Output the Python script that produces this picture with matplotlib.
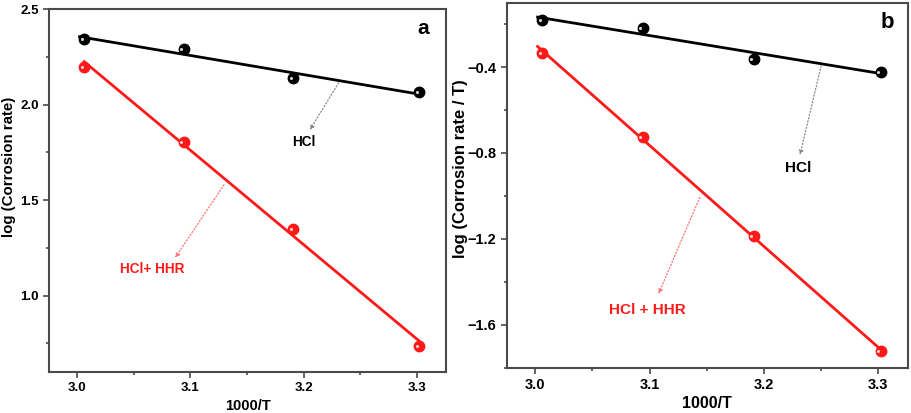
import numpy as np
import matplotlib
matplotlib.use("Agg")
import matplotlib.pyplot as plt
from matplotlib.ticker import MultipleLocator

plt.rcParams["font.family"] = ["Liberation Sans", "DejaVu Sans"]
plt.rcParams["font.weight"] = "bold"

# data
inv_T = [3.006, 3.094, 3.191, 3.302]
log_cr_hcl = [2.343, 2.289, 2.138, 2.064]
log_cr_hhr = [2.199, 1.806, 1.350, 0.735]
log_crT_hcl = [-0.182, -0.217, -0.360, -0.422]
log_crT_hhr = [-0.334, -0.725, -1.185, -1.723]

SPINE = "#4a4a4a"
RED = "#ff1a1a"


def draw_series(ax, x, y, color, pad=0.0):
    x = np.asarray(x)
    y = np.asarray(y)
    k, b = np.polyfit(x, y, 1)
    xf = np.array([x.min() - pad, x.max()])
    ax.plot(xf, k * xf + b, color=color, lw=2, zorder=2)
    ax.plot(x, y, "o", ms=7.5, color=color, mec=color, zorder=3)
    # little highlight so the dots look like the shaded spheres
    ax.plot(x - 0.002, y, "o", ms=2.2, color="#d9d9d9", mec="none", zorder=4)


def style(ax, fs):
    for s in ax.spines.values():
        s.set_color(SPINE)
        s.set_linewidth(1.5)
    ax.tick_params(which="both", direction="out", color=SPINE, width=1.2,
                   labelsize=fs)
    ax.tick_params(which="major", length=4)
    ax.tick_params(which="minor", length=2.5)
    ax.xaxis.set_major_locator(MultipleLocator(0.1))
    ax.xaxis.set_minor_locator(MultipleLocator(0.05))
    ax.set_xlim(2.975, 3.326)
    ax.set_xlabel("1000/T", fontsize=fs + 1, fontweight="bold", labelpad=3)


def note(ax, xy, xytext, color):
    ax.annotate("", xy=xytext, xytext=xy,
                arrowprops=dict(arrowstyle="-|>", color=color, lw=0.9, ls=":",
                                mutation_scale=6, shrinkA=0, shrinkB=0))


fig = plt.figure(figsize=(9.11, 4.13), dpi=100)
ax1 = fig.add_axes([0.0538, 0.0993, 0.4358, 0.8789])
ax2 = fig.add_axes([0.5562, 0.1097, 0.4405, 0.8838])

# panel a
draw_series(ax1, inv_T, log_cr_hcl, "black", pad=0.004)
draw_series(ax1, inv_T, log_cr_hhr, RED)
style(ax1, 9.5)
ax1.set_ylim(0.6, 2.5)
ax1.yaxis.set_major_locator(MultipleLocator(0.5))
ax1.yaxis.set_minor_locator(MultipleLocator(0.25))
ax1.set_ylabel("log (Corrosion rate)", fontsize=10.8, fontweight="bold")
ax1.yaxis.set_label_coords(-0.082, 0.565)
note(ax1, (3.231, 2.113), (3.2056, 1.867), "#888888")
ax1.text(3.200, 1.805, "HCl", ha="center", va="center", fontsize=9.8,
         fontweight="bold", color="black")
note(ax1, (3.1297, 1.580), (3.0865, 1.198), "#ff7070")
ax1.text(3.066, 1.141, "HCl+ HHR", ha="center", va="center", fontsize=9.8,
         fontweight="bold", color=RED)
ax1.text(0.942, 0.945, "a", transform=ax1.transAxes, ha="center", va="center",
         fontsize=15, fontweight="bold")

# panel b
draw_series(ax2, inv_T, log_crT_hcl, "black", pad=0.004)
draw_series(ax2, inv_T, log_crT_hhr, RED, pad=0.004)
style(ax2, 10.5)
ax2.set_ylim(-1.8, -0.1)
ax2.yaxis.set_major_locator(MultipleLocator(0.4))
ax2.yaxis.set_minor_locator(MultipleLocator(0.2))
ax2.set_yticks([-1.6, -1.2, -0.8, -0.4])
ax2.set_ylabel("log (Corrosion rate / T)", fontsize=12, fontweight="bold")
ax2.yaxis.set_label_coords(-0.096, 0.545)
note(ax2, (3.250, -0.395), (3.2315, -0.809), "#888888")
ax2.text(3.230, -0.872, "HCl", ha="center", va="center", fontsize=11,
         fontweight="bold", color="black")
note(ax2, (3.1439, -1.007), (3.1078, -1.456), "#ff7070")
ax2.text(3.098, -1.533, "HCl + HHR", ha="center", va="center", fontsize=11,
         fontweight="bold", color=RED)
ax2.text(0.948, 0.945, "b", transform=ax2.transAxes, ha="center", va="center",
         fontsize=16, fontweight="bold")

fig.savefig("out.png", dpi=100)
